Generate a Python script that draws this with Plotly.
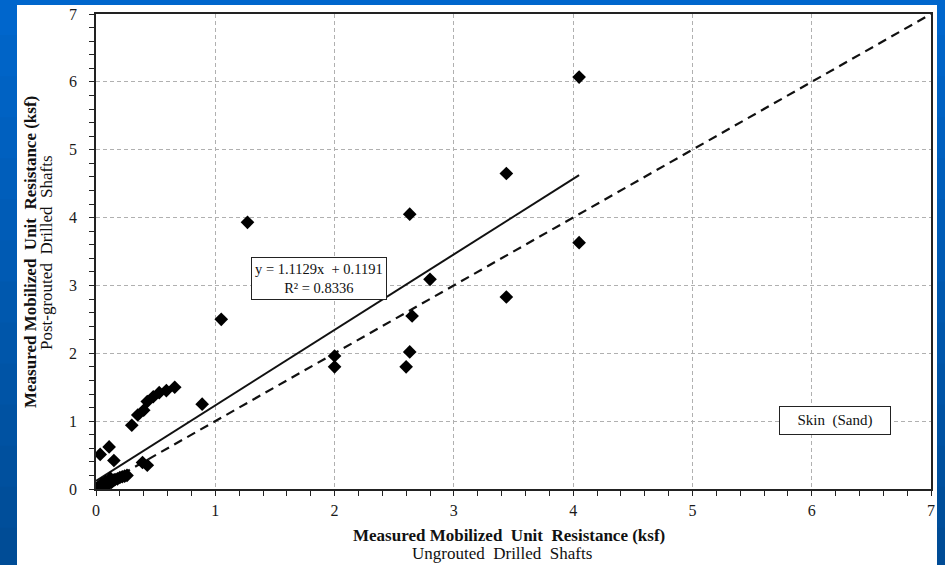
import plotly.graph_objects as go

# ---- data ----
x_pts = [4.05, 4.05, 3.44, 3.44, 2.63, 2.80, 2.65, 2.63, 2.60, 2.00, 2.00,
         1.27, 1.05, 0.89,
         0.66, 0.59, 0.53, 0.48, 0.43, 0.40, 0.35, 0.30,
         0.11, 0.035, 0.15, 0.39, 0.43,
         0.01, 0.02, 0.03, 0.04, 0.05, 0.06, 0.07, 0.08, 0.09, 0.10, 0.11,
         0.12, 0.13, 0.14, 0.15, 0.16, 0.18, 0.20, 0.22, 0.24, 0.26,
         0.05, 0.08, 0.12]
y_pts = [6.07, 3.63, 4.65, 2.83, 4.05, 3.09, 2.55, 2.02, 1.80, 1.96, 1.80,
         3.93, 2.50, 1.25,
         1.50, 1.45, 1.42, 1.36, 1.29, 1.16, 1.09, 0.94,
         0.62, 0.51, 0.42, 0.39, 0.35,
         0.01, 0.03, 0.02, 0.04, 0.05, 0.04, 0.07, 0.06, 0.08, 0.09, 0.08,
         0.11, 0.10, 0.12, 0.13, 0.14, 0.15, 0.17, 0.18, 0.19, 0.20,
         0.08, 0.11, 0.16]

slope = 1.1129
intercept = 0.1191
r2 = 0.8336
fit_x = [0.0, 4.05]
fit_y = [slope * v + intercept for v in fit_x]
ref_x = [0, 7]
ref_y = [0, 7]

tick_vals = [0, 1, 2, 3, 4, 5, 6, 7]
tick_text = ["0", "1", "2", "3", "4", "5", "6", "7"]

title_bold = "Measured Mobilized  Unit  Resistance (ksf)"
x_sub = "Ungrouted  Drilled  Shafts"
y_sub = "Post-grouted  Drilled  Shafts"
eq_text = "y = 1.1129x  + 0.1191<br>R² = 0.8336"
box_text = "Skin  (Sand)"

SERIF = "Liberation Serif, Times New Roman, serif"

fig = go.Figure()
fig.add_trace(go.Scatter(x=ref_x, y=ref_y, mode="lines",
                         line=dict(color="#111", width=2.2, dash="9px,6px"),
                         showlegend=False, hoverinfo="skip"))
fig.add_trace(go.Scatter(x=fit_x, y=fit_y, mode="lines",
                         line=dict(color="#111", width=2),
                         showlegend=False, hoverinfo="skip"))
fig.add_trace(go.Scatter(x=x_pts, y=y_pts, mode="markers",
                         marker=dict(symbol="diamond", size=10.5, color="#000"),
                         showlegend=False))

def px_x(px):
    return (px - 96) / 835

def px_y(py):
    return (489 - py) / 475

# background: blue gradient bands + white panel
shapes = []
n = 14
y_lo, y_hi = -0.17, 1.04
top = (0, 102, 204)
bot = (0, 76, 150)
for i in range(n):
    t = i / (n - 1)
    c = tuple(int(top[k] + (bot[k] - top[k]) * t) for k in range(3))
    ya = y_hi - (y_hi - y_lo) * i / n
    yb = y_hi - (y_hi - y_lo) * (i + 1) / n
    shapes.append(dict(type="rect", xref="paper", yref="paper",
                       x0=-0.13, x1=1.03, y0=yb - 0.002, y1=ya + 0.002,
                       fillcolor="rgb(%d,%d,%d)" % c, line=dict(width=0),
                       layer="below"))
shapes.append(dict(type="rect", xref="paper", yref="paper",
                   x0=px_x(17), x1=px_x(937),
                   y0=px_y(570), y1=px_y(5),
                   fillcolor="white", line=dict(width=0), layer="below"))

tickfont = dict(family=SERIF, size=16, color="#1a1a1a")
axis_common = dict(range=[0, 7], tickvals=tick_vals, ticktext=tick_text,
                   showline=True, linecolor="#222", linewidth=1.5, mirror=True,
                   ticks="outside", ticklen=5, tickcolor="#222", tickwidth=1,
                   showgrid=True, gridcolor="#b0b0b0", griddash="4px,3px",
                   gridwidth=1, zeroline=False, tickfont=tickfont,
                   automargin=False,
                   minor=dict(dtick=0.2, ticks="outside", ticklen=5,
                              tickcolor="#222", showgrid=False))

fig.update_layout(
    width=945, height=565,
    margin=dict(l=96, r=14, t=14, b=76),
    paper_bgcolor="rgb(0,90,180)",
    plot_bgcolor="rgba(0,0,0,0)",
    font=dict(family=SERIF),
    xaxis=dict(**axis_common, ticklabelstandoff=1),
    yaxis=dict(**axis_common, ticklabelstandoff=9),
    shapes=shapes,
    annotations=[
        dict(text=eq_text, x=1.869, y=3.095, xref="x", yref="y",
             showarrow=False, font=dict(family=SERIF, size=14.5, color="#111"),
             bgcolor="white", bordercolor="#222", borderwidth=1, borderpad=3,
             align="center"),
        dict(text=box_text, x=6.197, y=1.005, xref="x", yref="y",
             showarrow=False, font=dict(family=SERIF, size=15, color="#111"),
             bgcolor="white", bordercolor="#222", borderwidth=1, borderpad=5,
             width=100, align="center"),
        dict(text="<b>" + title_bold + "</b>", x=px_x(509), y=px_y(535),
             xref="paper", yref="paper", xanchor="center", yanchor="middle",
             showarrow=False, font=dict(family=SERIF, size=17, color="#111")),
        dict(text=x_sub, x=px_x(502), y=px_y(553),
             xref="paper", yref="paper", xanchor="center", yanchor="middle",
             showarrow=False, font=dict(family=SERIF, size=17, color="#111")),
        dict(text="<b>" + title_bold + "</b>", x=px_x(30), y=px_y(252),
             xref="paper", yref="paper", xanchor="center", yanchor="middle",
             showarrow=False, textangle=-90,
             font=dict(family=SERIF, size=17, color="#111")),
        dict(text=y_sub, x=px_x(47), y=px_y(253),
             xref="paper", yref="paper", xanchor="center", yanchor="middle",
             showarrow=False, textangle=-90,
             font=dict(family=SERIF, size=17, color="#111")),
    ],
)

fig.write_html("out.html")
